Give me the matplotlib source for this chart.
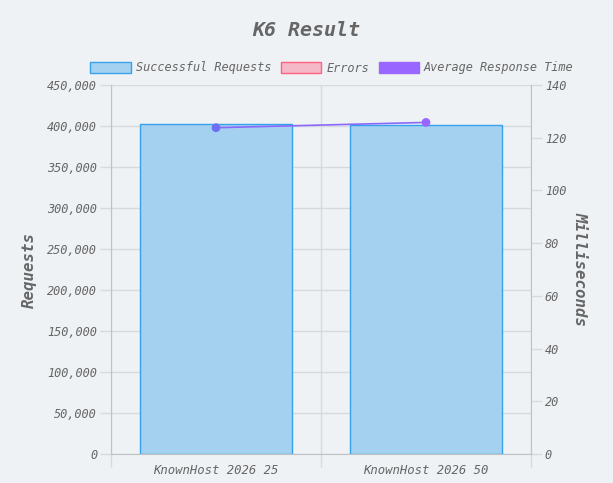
import matplotlib
matplotlib.use("Agg")
import matplotlib.pyplot as plt
from matplotlib.patches import Patch
from matplotlib.ticker import FuncFormatter, MultipleLocator
import numpy as np

categories = ["KnownHost 2026 25", "KnownHost 2026 50"]
successful = [402400, 400900]
errors = [0, 0]
avg_response_ms = [123.8, 125.8]

BG = "#eef2f5"
TXT = "#666666"
GRID = "#d6dadd"
SPINE = "#bfc2c4"
FONT = "DejaVu Sans Mono"

fig = plt.figure(figsize=(6.13, 4.83), dpi=100, facecolor=BG)
ax = fig.add_axes([111/613, 29/483, 420/613, 369/483], facecolor=BG)
ax2 = ax.twinx()

x = np.arange(len(categories))
ax.bar(x, successful, width=0.72, color="#a5d1f1",
       edgecolor="#36a2eb", linewidth=1, zorder=2)
ax.bar(x, errors, width=0.72, color="#f4b8c6",
       edgecolor="#ff6384", linewidth=0, zorder=2)

ax2.plot(x, avg_response_ms, color="#8a68fb", linewidth=1.2, zorder=3)
ax2.scatter(x, avg_response_ms, color=["#6e6ef2", "#9966ff"], s=28, zorder=4)

ax.set_xlim(-0.5, 1.5)
ax.set_ylim(0, 450000)
ax2.set_ylim(0, 140)
ax.yaxis.set_major_locator(MultipleLocator(50000))
ax2.yaxis.set_major_locator(MultipleLocator(20))
ax.yaxis.set_major_formatter(FuncFormatter(lambda v, p: f"{int(v):,}"))

ax.set_xticks(x)
ax.set_xticklabels(categories)
ax.set_xticks([-0.5, 0.5, 1.5], minor=True)

for a in (ax, ax2):
    for s in a.spines.values():
        s.set_visible(False)
    a.tick_params(axis="y", length=8, color=GRID, width=1, labelcolor=TXT, labelsize=8.6, pad=2)
    for lbl in a.get_yticklabels():
        lbl.set_fontfamily(FONT); lbl.set_fontstyle("italic")
ax.tick_params(axis="x", which="major", length=0, pad=7)
ax.tick_params(axis="x", which="minor", length=9, color=GRID, width=1)
ax.set_axisbelow(True)
ax.grid(True, which="major", axis="y", color=GRID, linewidth=1)
ax.grid(True, which="minor", axis="x", color=GRID, linewidth=1)

ax.spines["left"].set_visible(True); ax.spines["left"].set_color(SPINE)
ax2.spines["right"].set_visible(True); ax2.spines["right"].set_color(SPINE)
ax.spines["bottom"].set_visible(True); ax.spines["bottom"].set_color(SPINE)
for lbl in ax.get_xticklabels():
    lbl.set_fontfamily(FONT); lbl.set_fontstyle("italic"); lbl.set_color(TXT); lbl.set_fontsize(8.8)

ax.set_ylabel("Requests", fontfamily=FONT, fontstyle="italic", fontweight="bold",
              fontsize=11.3, color=TXT)
ax2.set_ylabel("Milliseconds", fontfamily=FONT, fontstyle="italic", fontweight="bold",
               fontsize=11.3, color=TXT, rotation=-90, va="center")
ax2.yaxis.set_label_coords(1.117, 0.5)
ax.yaxis.set_label_coords(-0.176, 0.5)

fig.text(0.5, 1 - 30/483, "K6 Result", ha="center", va="center", fontfamily=FONT,
         fontstyle="italic", fontweight="bold", fontsize=14.4, color=TXT)

handles = [
    Patch(facecolor="#a5d1f1", edgecolor="#36a2eb", linewidth=1),
    Patch(facecolor="#f4b8c6", edgecolor="#ff6384", linewidth=1),
    Patch(facecolor="#9966ff", edgecolor="#9966ff", linewidth=1),
]
leg = fig.legend(handles, ["Successful Requests", "Errors", "Average Response Time"],
                 loc="center", bbox_to_anchor=(332/613, 1 - 68/483), ncol=3, frameon=False,
                 prop={"family": FONT, "style": "italic", "size": 8.6},
                 handlelength=3.4, handleheight=1.1, handletextpad=0.4, columnspacing=0.8)
for t in leg.get_texts():
    t.set_color(TXT)

fig.savefig("out.png", dpi=100, facecolor=BG)
